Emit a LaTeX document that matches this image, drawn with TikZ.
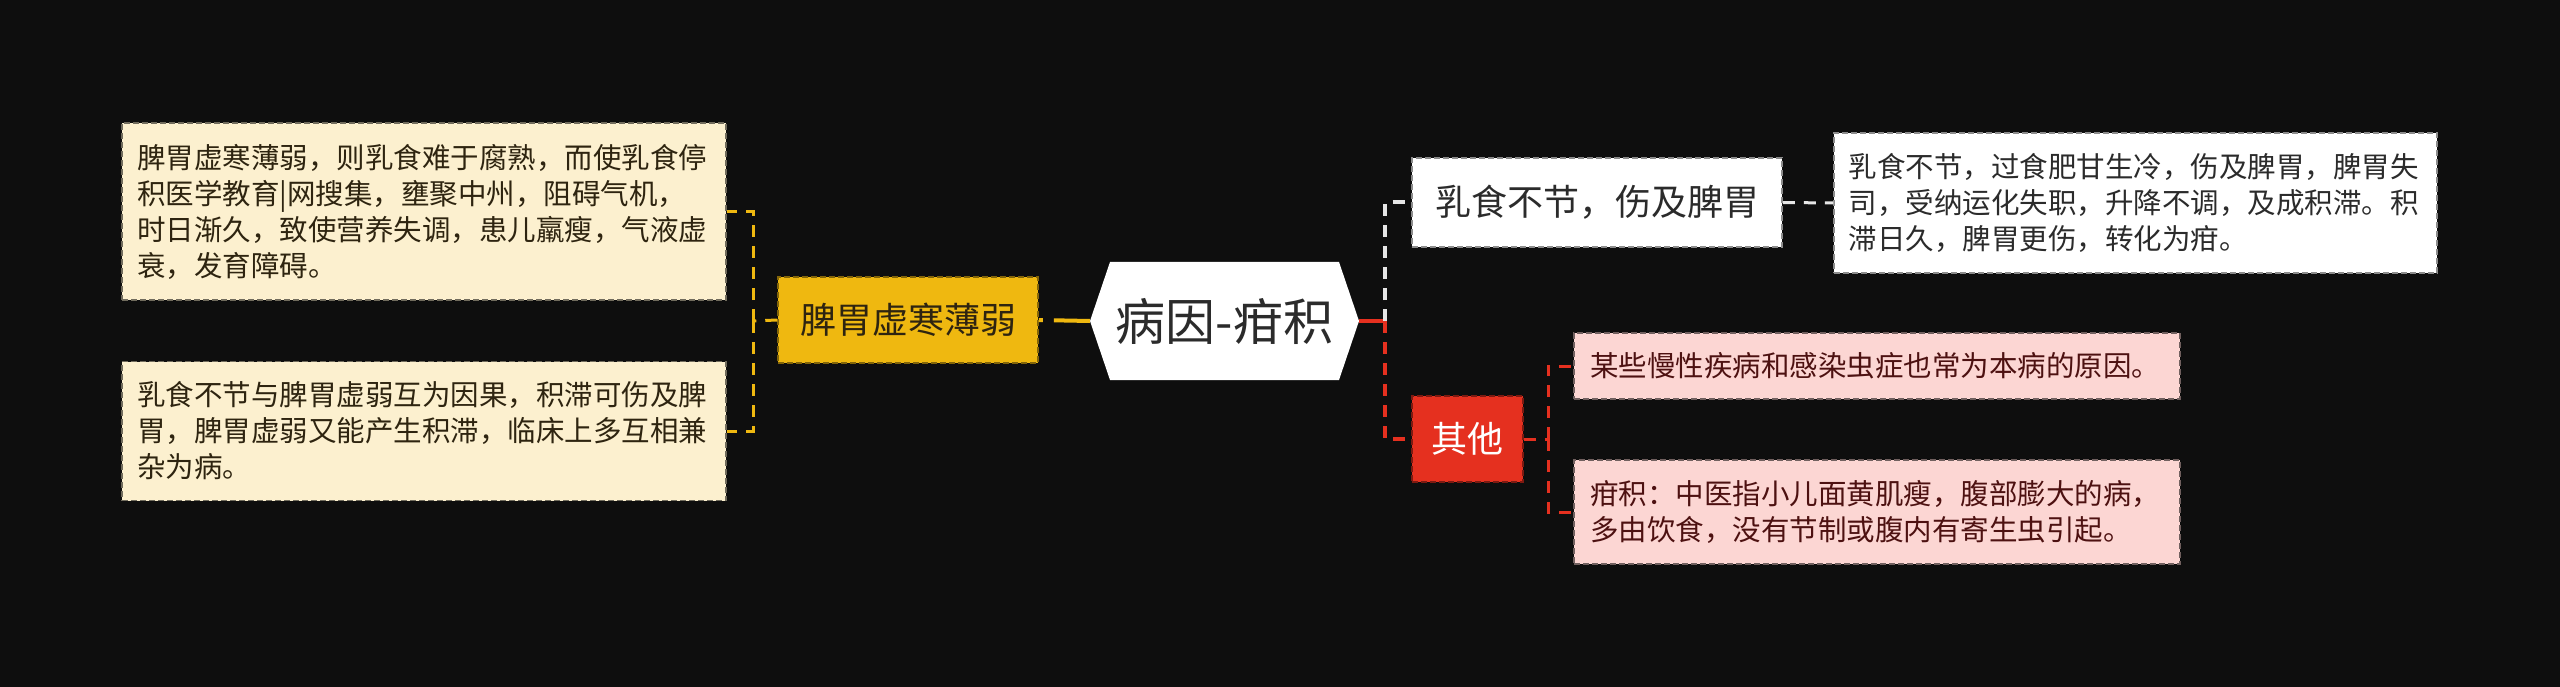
\documentclass[tikz,border=0pt]{standalone}
\usepackage{fontspec}
\setmainfont{Noto Sans CJK SC}
\newcommand\myfs[2]{\fontsize{#1}{#2}\selectfont}
\definecolor{bg}{HTML}{0E0E0E}
\definecolor{gold}{HTML}{EFB810}
\definecolor{redc}{HTML}{E5301F}
\definecolor{cream}{HTML}{FCF0CF}
\definecolor{pink}{HTML}{FCD6D3}
\definecolor{wline}{HTML}{E6E6E6}
\definecolor{creamtxt}{HTML}{2E2410}
\definecolor{pinktxt}{HTML}{4D1111}
\definecolor{darktxt}{HTML}{2B2B2B}
\begin{document}
\begin{tikzpicture}[x=1pt,y=-1pt,
  leafbox/.style={rectangle, inner sep=0pt, text width=574pt, align=left,
    font=\myfs{28.5}{36}, line width=1.5pt, dash pattern=on 6pt off 3pt},
  midbox/.style={rectangle, inner sep=0pt, font=\myfs{36}{40},
    line width=1.5pt, dash pattern=on 6pt off 3pt},
  dsh/.style={dash pattern=on 12pt off 9pt},
  thick1/.style={line width=4pt},
  thick2/.style={line width=3pt}]
\fill[bg] (0,0) rectangle (2560,687);
\useasboundingbox (0,0) rectangle (2560,687);

% central hexagon
\fill[white] (1090,321) -- (1110,262) -- (1339,262) -- (1359,321) -- (1339,380) -- (1110,380) -- cycle;
\node (C) [rectangle, inner sep=0pt, minimum width=269pt, minimum height=118pt,
  font=\myfs{50}{56}, text=darktxt] at (1224.5,321) {病因-疳积};

% left branch
\node (Y) [midbox, fill=gold, draw=gold!55!black, text=creamtxt,
  minimum width=260pt, minimum height=86pt] at (908,320) {脾胃虚寒薄弱};
\node (L1) [leafbox, fill=cream, draw=cream!45!black, text=creamtxt,
  minimum width=604pt, minimum height=177pt] at (424,211.5)
  {脾胃虚寒薄弱，则乳食难于腐熟，而使乳食停\\积医学教育|网搜集，壅聚中州，阻碍气机，\\时日渐久，致使营养失调，患儿羸瘦，气液虚\\衰，发育障碍。};
\node (L2) [leafbox, fill=cream, draw=cream!45!black, text=creamtxt,
  minimum width=604pt, minimum height=139pt] at (424,431)
  {乳食不节与脾胃虚弱互为因果，积滞可伤及脾\\胃，脾胃虚弱又能产生积滞，临床上多互相兼\\杂为病。};

% right branch
\node (R1) [midbox, fill=white, draw=black!45, text=darktxt,
  minimum width=370pt, minimum height=89pt] at (1597,202.5) {乳食不节，伤及脾胃};
\node (R2) [leafbox, fill=white, draw=black!45, text=darktxt,
  minimum width=603pt, minimum height=140pt] at (2135.5,203)
  {乳食不节，过食肥甘生冷，伤及脾胃，脾胃失\\司，受纳运化失职，升降不调，及成积滞。积\\滞日久，脾胃更伤，转化为疳。};
\node (Q) [midbox, fill=redc, draw=redc!55!black, text=white,
  minimum width=111pt, minimum height=86pt] at (1467.5,439) {其他};
\node (P1) [leafbox, fill=pink, draw=pink!45!black, text=pinktxt,
  minimum width=606pt, minimum height=66pt] at (1877,366)
  {某些慢性疾病和感染虫症也常为本病的原因。};
\node (P2) [leafbox, fill=pink, draw=pink!45!black, text=pinktxt,
  minimum width=606pt, minimum height=104pt] at (1877,512)
  {疳积：中医指小儿面黄肌瘦，腹部膨大的病，\\多由饮食，没有节制或腹内有寄生虫引起。};

% connectors left
\draw[gold, thick1, dash pattern=on 36pt off 11pt on 5pt off 20pt] (C.west) -- (Y.east);
\coordinate (yb) at (753,321);
\draw[gold, thick2, dsh] (Y.west) -- (yb);
\draw[gold, thick2, dsh] (yb) |- (L1.east);
\draw[gold, thick2, dsh] (yb) |- (L2.east);

% connectors right
\coordinate (wb) at (1385,321);
\draw[redc, thick1] (C.east) -- (wb);
\draw[redc, thick1, dsh] (wb) |- (Q.west);
\draw[wline, thick1, dsh] (wb) |- (R1.west);
\draw[wline, thick2, dsh] (R1.east) -- (R2.west);
\coordinate (rb) at (1548,439);
\draw[redc, thick2, dsh] (Q.east) -- (rb);
\draw[redc, thick2, dsh] (rb) |- (P1.west);
\draw[redc, thick2, dsh] (rb) |- (P2.west);
\end{tikzpicture}
\end{document}
